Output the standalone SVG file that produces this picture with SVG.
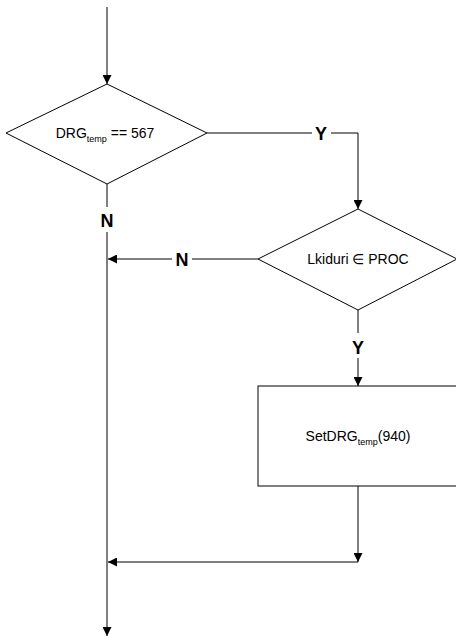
<svg xmlns="http://www.w3.org/2000/svg" width="456" height="639" viewBox="0 0 456 639">
<style>
.shape{fill:#fff;stroke:#000;stroke-width:1}
.ln{fill:none;stroke:#000;stroke-width:1}
.t{font-family:"Liberation Sans",Arial,sans-serif;font-size:14px;fill:#000}
.lbl{font-family:"Liberation Sans",Arial,sans-serif;font-size:18px;font-weight:bold;fill:#000}
</style>
<defs>
<marker id="ah" viewBox="0 0 10 10" refX="10" refY="5" markerWidth="10" markerHeight="9" markerUnits="userSpaceOnUse" orient="auto">
<path d="M0,0 L10,5 L0,10 Z" fill="#000"/>
</marker>
</defs>
<g id="connectors">
<path class="ln" d="M107,7 V84" marker-end="url(#ah)"/>
<path class="ln" d="M207,133 H312"/>
<path class="ln" d="M331,133 H358 V209" marker-end="url(#ah)"/>
<path class="ln" d="M258,259 H192"/>
<path class="ln" d="M172,259 H108" marker-end="url(#ah)"/>
<path class="ln" d="M107,184 V207"/>
<path class="ln" d="M107,232 V636" marker-end="url(#ah)"/>
<path class="ln" d="M358,310 V333"/>
<path class="ln" d="M358,358 V386" marker-end="url(#ah)"/>
<path class="ln" d="M358,486 V562" marker-end="url(#ah)"/>
<path class="ln" d="M358,562 H108" marker-end="url(#ah)"/>
<text class="lbl" x="321" y="140" text-anchor="middle">Y</text>
<text class="lbl" x="182" y="266" text-anchor="middle">N</text>
<text class="lbl" x="107" y="227" text-anchor="middle">N</text>
<text class="lbl" x="358" y="354" text-anchor="middle">Y</text>
</g>
<g id="decision1">
<polygon class="shape" points="107,84 207,133 107,184 6,133"/>
<text class="t" x="105" y="138" text-anchor="middle">DRG<tspan font-size="9" dy="4">temp</tspan><tspan dy="-4"> == 567</tspan></text>
</g>
<g id="decision2">
<polygon class="shape" points="358,209 457,259 358,310 258,259"/>
<text class="t" x="358" y="264" text-anchor="middle">Lkiduri ∈ PROC</text>
</g>
<g id="process1">
<rect class="shape" x="258" y="386" width="210" height="100"/>
<text class="t" x="358" y="441" text-anchor="middle">SetDRG<tspan font-size="9" dy="4">temp</tspan><tspan dy="-4">(940)</tspan></text>
</g>
</svg>
